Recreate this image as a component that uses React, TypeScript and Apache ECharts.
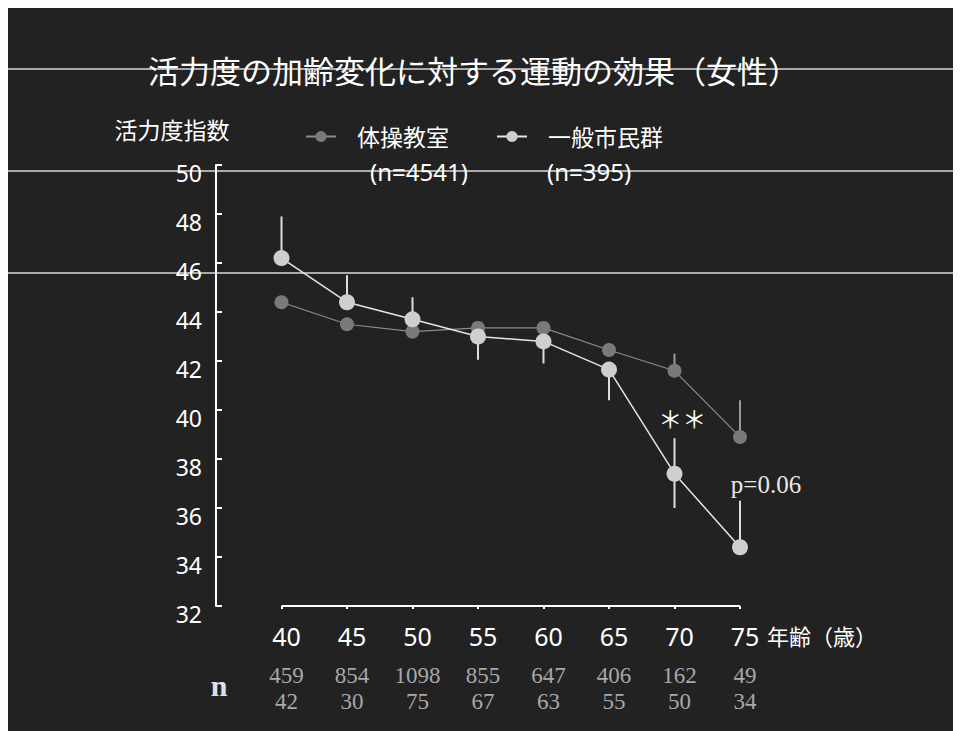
import React, { useEffect, useRef } from 'react';
import * as echarts from 'echarts';

const ages = [40, 45, 50, 55, 60, 65, 70, 75];
const taisoValues = [44.4, 43.5, 43.2, 43.35, 43.35, 42.45, 41.6, 38.9];
const generalValues = [46.2, 44.4, 43.7, 43.0, 42.8, 41.65, 37.4, 34.4];
const generalErrLow = [46.2, 44.4, 43.7, 42.05, 41.9, 40.4, 36.0, 34.4];
const generalErrHigh = [47.9, 45.5, 44.6, 43.0, 42.8, 41.65, 38.85, 36.3];
const taisoErrAges = [70, 75];
const taisoErrLow = [41.6, 38.9];
const taisoErrHigh = [42.3, 40.4];
const nTaiso = [459, 854, 1098, 855, 647, 406, 162, 49];
const nGeneral = [42, 30, 75, 67, 63, 55, 50, 34];
const yMin = 32;
const yMax = 50;
const yStep = 2;
const xMin = 35;
const xMax = 75;
const sigMark = { label: '＊＊', coord: [70.6, 39.7] };
const pMark = { label: 'p=0.06', coord: [75, 36.94] };

const SANS = "'Noto Sans', 'Noto Sans CJK JP', sans-serif";
const SERIF = "'Liberation Serif', 'DejaVu Serif', serif";

const errorBar = (color: string) => (params: any, api: any) => {
  const x = api.value(0);
  const lo = api.coord([x, api.value(1)]);
  const hi = api.coord([x, api.value(2)]);
  return {
    type: 'line',
    shape: { x1: lo[0], y1: lo[1], x2: hi[0], y2: hi[1] },
    style: { stroke: color, lineWidth: 2 },
  };
};

export default function App() {
  const ref = useRef<HTMLDivElement>(null);
  useEffect(() => {
    if (!ref.current) return;
    const chart = echarts.init(ref.current, null, { renderer: 'svg' });
    const W = 953;
    chart.setOption({
      animation: false,
      backgroundColor: 'transparent',
      title: {
        text: '活力度の加齢変化に対する運動の効果（女性）',
        left: 140,
        top: 46,
        padding: 0,
        textStyle: { color: '#ffffff', fontSize: 31, fontWeight: 'normal', fontFamily: SANS, lineHeight: 34 },
      },
      legend: {
        left: 297,
        top: 117,
        padding: 0,
        itemWidth: 30,
        itemHeight: 14,
        itemGap: 47,
        data: ['体操教室', '一般市民群'],
        textStyle: { color: '#ffffff', fontSize: 23, lineHeight: 22, fontFamily: SANS, padding: [0, 0, 0, 16] },
      },
      grid: { left: 208, right: 221, top: 157, bottom: 125 },
      xAxis: {
        type: 'value',
        min: xMin,
        max: xMax,
        interval: 5,
        axisLine: { show: false },
        splitLine: { show: false },
        axisTick: {
          show: true,
          customValues: ages,
          length: 3,
          lineStyle: { color: '#ffffff', width: 2 },
        },
        axisLabel: {
          customValues: ages,
          margin: 4,
          padding: [0, 0, 0, 10],
          formatter: (v: number) => {
            const i = ages.indexOf(v);
            if (i < 0) return '';
            return `{a|${v}}\n{n|${nTaiso[i]}}\n{n|${nGeneral[i]}}`;
          },
          rich: {
            a: { color: '#ffffff', fontSize: 25, fontFamily: SANS, lineHeight: 52 },
            n: { color: '#a8a8a8', fontSize: 23, fontFamily: SERIF, lineHeight: 26 },
          },
        },
        name: '年齢（歳）',
        nameLocation: 'end',
        nameGap: 27,
        nameTextStyle: {
          color: '#ffffff',
          fontSize: 22,
          fontFamily: SANS,
          align: 'left',
          verticalAlign: 'top',
          padding: [19, 0, 0, 0],
        },
      },
      yAxis: {
        type: 'value',
        min: yMin,
        max: yMax,
        interval: yStep,
        axisLine: { show: true, lineStyle: { color: '#ffffff', width: 2 } },
        axisTick: { show: true, inside: true, length: 6, lineStyle: { color: '#ffffff', width: 2 } },
        splitLine: { show: false },
        axisLabel: {
          color: '#ffffff',
          fontSize: 23,
          fontFamily: SANS,
          margin: 14,
          verticalAlign: 'top',
          lineHeight: 16,
        },
      },
      graphic: [
        { type: 'line', z: 0, shape: { x1: 0, y1: 61, x2: W, y2: 61 }, style: { stroke: '#d8d8d8', lineWidth: 1.5 } },
        { type: 'line', z: 0, shape: { x1: 0, y1: 163, x2: W, y2: 163 }, style: { stroke: '#d8d8d8', lineWidth: 1.5 } },
        { type: 'line', z: 0, shape: { x1: 0, y1: 265, x2: W, y2: 265 }, style: { stroke: '#d8d8d8', lineWidth: 1.5 } },
        {
          type: 'text', z: 10, x: 164, y: 122,
          style: { text: '活力度指数', fill: '#ffffff', fontSize: 23, fontFamily: SANS, textAlign: 'center', textVerticalAlign: 'middle' },
        },
        {
          type: 'text', z: 10, x: 362, y: 163,
          style: { text: '(n=4541)', fill: '#ffffff', fontSize: 24, fontFamily: SANS, textAlign: 'left', textVerticalAlign: 'middle' },
        },
        {
          type: 'text', z: 10, x: 539, y: 163,
          style: { text: '(n=395)', fill: '#ffffff', fontSize: 24, fontFamily: SANS, textAlign: 'left', textVerticalAlign: 'middle' },
        },
        {
          type: 'text', z: 10, x: 211, y: 677,
          style: { text: 'n', fill: '#e0e0e0', fontSize: 30, fontWeight: 'bold', fontFamily: SERIF, textAlign: 'center', textVerticalAlign: 'middle' },
        },
      ],
      series: [
        {
          name: 'axisBase',
          type: 'line',
          silent: true,
          clip: false,
          symbol: 'none',
          data: [[ages[0], yMin], [ages[ages.length - 1], yMin]],
          lineStyle: { color: '#ffffff', width: 2 },
          z: 1,
        },
        {
          name: '体操教室',
          type: 'line',
          data: ages.map((a, i) => [a, taisoValues[i]]),
          symbol: 'circle',
          symbolSize: 14,
          itemStyle: { color: '#7a7a7a' },
          lineStyle: { color: '#8c8c8c', width: 1.2 },
          z: 3,
        },
        {
          name: '体操教室err',
          type: 'custom',
          silent: true,
          renderItem: errorBar('#9a9a9a'),
          encode: { x: 0, y: [1, 2] },
          data: taisoErrAges.map((a, i) => [a, taisoErrLow[i], taisoErrHigh[i]]),
          z: 2,
        },
        {
          name: '一般市民群err',
          type: 'custom',
          silent: true,
          renderItem: errorBar('#dddddd'),
          encode: { x: 0, y: [1, 2] },
          data: ages.map((a, i) => [a, generalErrLow[i], generalErrHigh[i]]),
          z: 4,
        },
        {
          name: '一般市民群',
          type: 'line',
          data: ages.map((a, i) => [a, generalValues[i]]),
          symbol: 'circle',
          symbolSize: 16,
          itemStyle: { color: '#cfcfcf' },
          lineStyle: { color: '#e6e6e6', width: 1.5 },
          z: 5,
          markPoint: {
            symbol: 'circle',
            symbolSize: 0,
            silent: true,
            data: [
              {
                coord: sigMark.coord,
                label: { show: true, position: 'inside', formatter: sigMark.label, color: '#ffffff', fontSize: 24, fontFamily: "'Noto Sans CJK JP', sans-serif" },
              },
              {
                coord: pMark.coord,
                label: { show: true, position: 'inside', offset: [26, 0], formatter: pMark.label, color: '#e8e8e8', fontSize: 25, fontFamily: SERIF },
              },
            ],
          },
        },
      ],
    });
    return () => chart.dispose();
  }, []);
  return <div ref={ref} style={{ width: 953, height: 723, backgroundColor: '#222222' }} />;
}
